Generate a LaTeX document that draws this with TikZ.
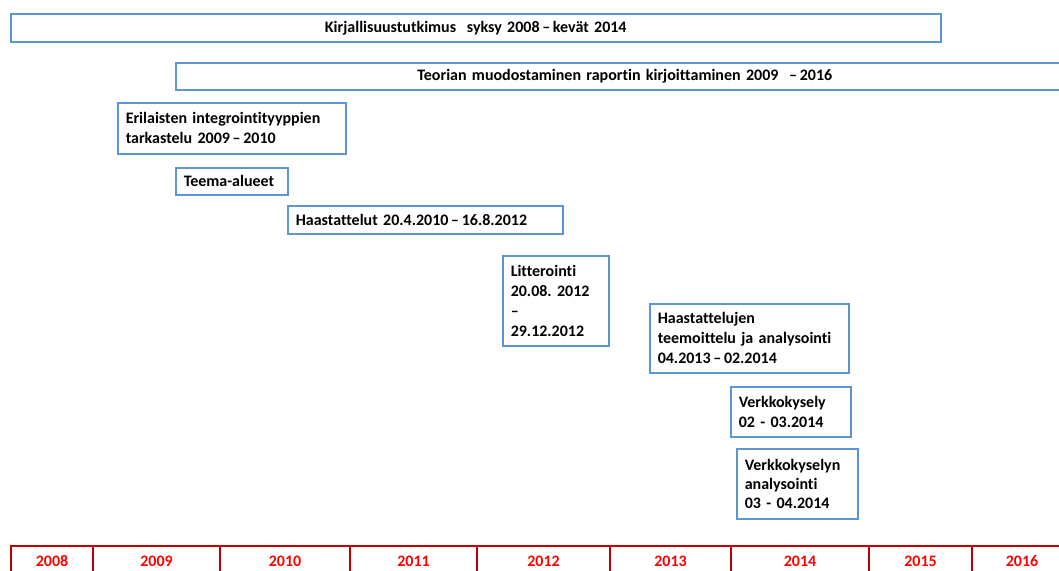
\documentclass[tikz,border=0pt]{standalone}
\usepackage{fontspec}
\setmainfont{Carlito}[Ligatures=NoCommon, WordSpace=0.8]
\frenchspacing
\usepackage{tikz}
\usetikzlibrary{positioning}
\definecolor{boxblue}{RGB}{94,150,213}
\definecolor{yearline}{RGB}{192,0,0}
\definecolor{yearred}{RGB}{255,0,0}
\definecolor{boxtext}{RGB}{0,0,0}
\tikzset{
  taskbox/.style={rectangle, draw=boxblue, line width=1.5pt, anchor=north west,
    inner xsep=8pt, align=left, text=boxtext,
    font=\fontsize{16}{20}\selectfont\bfseries},
  barbox/.style={taskbox, align=center},
  yearcell/.style={rectangle, draw=yearline, line width=2pt, anchor=north west,
    minimum height=30pt, text=yearred, font=\fontsize{16}{20}\selectfont\bfseries}
}

\begin{document}
\begin{tikzpicture}[x=1pt, y=-1pt]
  \useasboundingbox (0,0) rectangle (1059,570);
  \clip (0,0) rectangle (1059,570);

  % Long bars over the whole study
  \node[barbox, minimum width=930pt, minimum height=28pt, text width=914pt] (kirj) at (10,13)
    {Kirjallisuustutkimus\ \ syksy 2008\,--\,kevät 2014};
  \node[barbox, minimum width=898pt, minimum height=27pt, text width=882pt] (teoria) at (175,62)
    {Teorian muodostaminen raportin kirjoittaminen 2009\ \ --\,2016};

  % Work phases
  \node[taskbox, minimum width=228pt, minimum height=51pt, text width=212pt] (integr) at (117,102)
    {Erilaisten integrointityyppien\\tarkastelu 2009\,--\,2010};
  \node[taskbox, minimum width=112pt, minimum height=27pt, text width=96pt] (teema) at (175,167)
    {Teema-alueet};
  \node[taskbox, minimum width=275pt, minimum height=28pt, text width=259pt] (haast) at (287,205)
    {Haastattelut 20.4.2010\,--\,16.8.2012};
  \node[taskbox, minimum width=106pt, minimum height=90pt, text width=90pt] (litt) at (502,255)
    {Litterointi\\20.08. 2012\\--\\29.12.2012};
  \node[taskbox, minimum width=199pt, minimum height=69pt, text width=183pt] (teemoit) at (649,303)
    {Haastattelujen\\teemoittelu ja analysointi\\04.2013\,--\,02.2014};
  \node[taskbox, minimum width=120pt, minimum height=50pt, text width=104pt] (kysely) at (730,386)
    {Verkkokysely\\02 - 03.2014};
  \node[taskbox, minimum width=121pt, minimum height=70pt, text width=105pt,
    font=\fontsize{16}{19}\selectfont\bfseries] (kyselyan) at (736,448)
    {Verkkokyselyn\\analysointi\\03 - 04.2014};

  % Year scale along the bottom
  \foreach \a/\b/\yr in {10/92/2008, 92/219/2009, 219/349/2010, 349/476/2011, 476/609/2012,
                         609/730/2013, 730/868/2014, 868/971/2015, 971/1071/2016} {
    \pgfmathsetmacro\w{\b-\a}
    \node[yearcell, minimum width=\w pt] (y\yr) at (\a,545) {\yr};
  }
\end{tikzpicture}
\end{document}
